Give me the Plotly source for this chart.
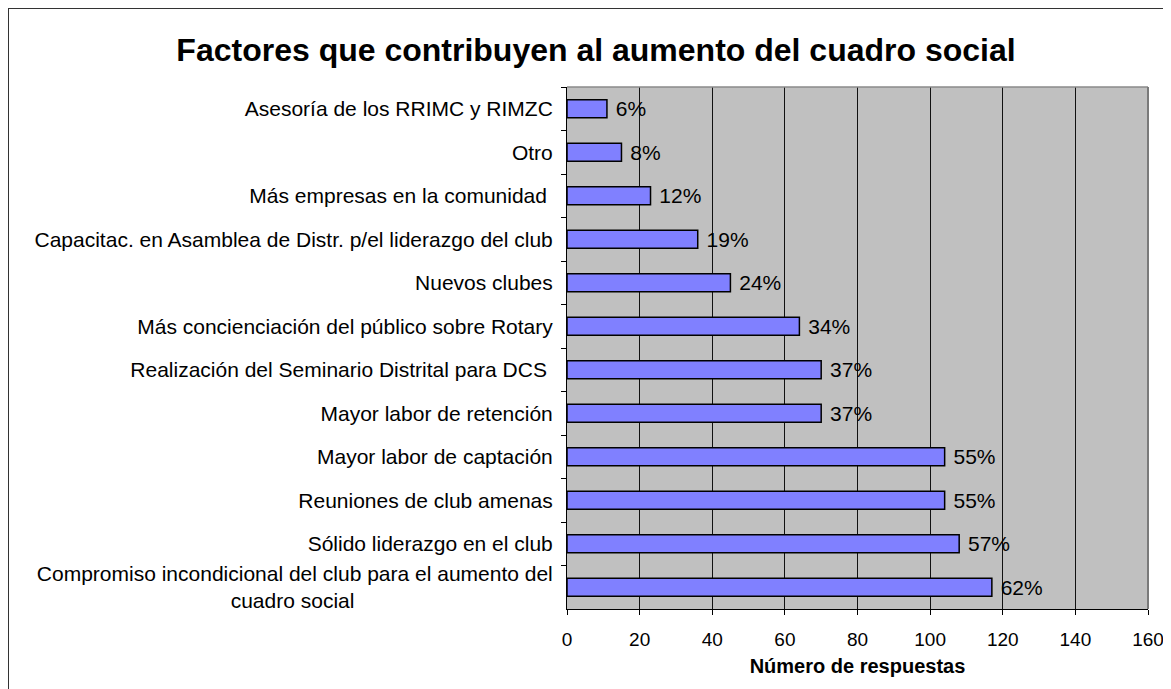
import plotly.graph_objects as go

categories = [
    "Asesoría de los RRIMC y RIMZC",
    "Otro",
    "Más empresas en la comunidad ",
    "Capacitac. en Asamblea de Distr. p/el liderazgo del club",
    "Nuevos clubes",
    "Más concienciación del público sobre Rotary",
    "Realización del Seminario Distrital para DCS ",
    "Mayor labor de retención",
    "Mayor labor de captación",
    "Reuniones de club amenas",
    "Sólido liderazgo en el club",
    "Compromiso incondicional del club para el aumento del<br>cuadro social" + "\u00a0" * 34,
]
responses = [11, 15, 23, 36, 45, 64, 70, 70, 104, 104, 108, 117]
pct_labels = ["6%", "8%", "12%", "19%", "24%", "34%", "37%", "37%", "55%", "55%", "57%", "62%"]
x_ticks = [0, 20, 40, 60, 80, 100, 120, 140, 160]

FONT = "Liberation Sans, Arial, sans-serif"

fig = go.Figure(
    go.Bar(
        x=responses,
        y=categories,
        orientation="h",
        marker=dict(color="#8080FF", line=dict(color="black", width=1.5)),
        text=[" " + t for t in pct_labels],
        textposition="outside",
        constraintext="none",
        textfont=dict(family=FONT, size=21, color="black"),
        cliponaxis=False,
        hoverinfo="x+y",
    )
)

W, H = 1171, 689
# page body adds an 8px offset; margins chosen so the on-screen plot area matches
L, R, T, B = 559, 31, 79, 88
pw, ph = W - L - R, H - T - B

fig.update_layout(
    width=W,
    height=H,
    margin=dict(l=L, r=R, t=T, b=B),
    paper_bgcolor="white",
    plot_bgcolor="#C0C0C0",
    bargap=0.59,
    showlegend=False,
    font=dict(family=FONT, color="black"),
    title=dict(
        text="<b>Factores que contribuyen al aumento del cuadro social</b>",
        font=dict(family=FONT, size=32, color="black"),
        xref="container", yref="container",
        x=588 / W, y=1 - 42 / H, xanchor="center", yanchor="middle",
    ),
    xaxis=dict(
        range=[0, 160],
        tickvals=x_ticks,
        ticks="outside",
        ticklen=5,
        tickcolor="black",
        tickfont=dict(family=FONT, size=19, color="black"),
        ticklabelstandoff=8,
        showgrid=True,
        gridcolor="#111111",
        gridwidth=1,
        showline=True,
        linecolor="black",
        linewidth=1,
        zeroline=False,
        title=dict(
            text="<b>Número de respuestas</b>",
            font=dict(family=FONT, size=20, color="black"),
            standoff=10,
        ),
    ),
    yaxis=dict(
        autorange="reversed",
        tickson="boundaries",
        ticks="outside",
        ticklen=5,
        tickcolor="black",
        tickfont=dict(family=FONT, size=21, color="black"),
        ticklabelstandoff=9,
        showgrid=False,
        showline=True,
        linecolor="black",
        linewidth=1,
        zeroline=False,
    ),
    shapes=[
        # plot-area top and right edges (gray)
        dict(type="line", xref="paper", yref="paper", x0=0, x1=1, y0=1, y1=1,
             line=dict(color="#8a8a8a", width=1.5)),
        dict(type="line", xref="paper", yref="paper", x0=1, x1=1, y0=0, y1=1,
             line=dict(color="#7a7a7a", width=2)),
        # outer chart border (left and top visible)
        dict(type="rect", xref="paper", yref="paper",
             x0=(0 - L) / pw, x1=1.3, y0=-0.6, y1=(H - B - 0) / ph,
             line=dict(color="#333333", width=2), fillcolor="rgba(0,0,0,0)"),
    ],
)

fig.write_html("out.html")
